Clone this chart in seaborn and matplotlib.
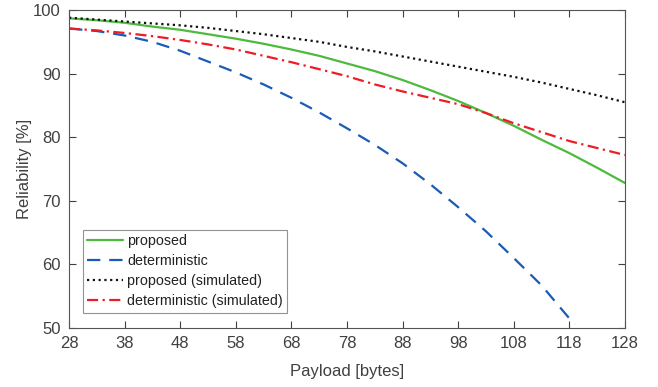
import matplotlib
matplotlib.use("Agg")
import matplotlib.pyplot as plt
import seaborn as sns
import pandas as pd

sns.set_theme(style="white")
plt.rcParams['font.family'] = ['Liberation Sans', 'DejaVu Sans']

payload = [28, 33, 38, 43, 48, 53, 58, 63, 68, 73, 78, 83, 88, 93, 98, 103, 108, 113, 118, 123, 128]
proposed = [98.7, 98.4, 98.0, 97.4, 96.9, 96.2, 95.5, 94.7, 93.8, 92.8, 91.6, 90.4, 89.0, 87.4, 85.7, 83.8, 81.8, 79.6, 77.5, 75.2, 72.8]
payload_det = [28, 33, 38, 43, 48, 53, 58, 63, 68, 73, 78, 83, 88, 93, 98, 103, 108, 113, 118, 119]
deterministic = [97.1, 96.7, 96.0, 95.0, 93.6, 91.9, 90.2, 88.3, 86.2, 83.9, 81.4, 78.8, 75.9, 72.6, 69.0, 65.2, 61.0, 56.7, 51.5, 50.6]
proposed_sim = [98.8, 98.5, 98.2, 97.9, 97.6, 97.2, 96.7, 96.2, 95.6, 95.0, 94.2, 93.5, 92.7, 91.9, 91.1, 90.3, 89.5, 88.6, 87.6, 86.6, 85.5]
deterministic_sim = [97.1, 96.8, 96.4, 95.9, 95.3, 94.6, 93.8, 92.8, 91.8, 90.7, 89.6, 88.3, 87.2, 86.2, 85.2, 83.8, 82.2, 80.8, 79.4, 78.3, 77.2]
xticks = [28, 38, 48, 58, 68, 78, 88, 98, 108, 118, 128]
yticks = [50, 60, 70, 80, 90, 100]

fig = plt.figure(figsize=(6.58, 3.87), dpi=100)
ax = fig.add_axes([0.1049, 0.1525, 0.8449, 0.8215])

sns.lineplot(x=payload, y=proposed, ax=ax, color="#4DBA3D", lw=1.6, label="proposed")
sns.lineplot(x=payload_det, y=deterministic, ax=ax, color="#1A5BB5", lw=1.6,
             label="deterministic").lines[-1].set_dashes([6, 4])
sns.lineplot(x=payload, y=proposed_sim, ax=ax, color="#111111", lw=1.6, label="proposed (simulated)").lines[-1].set_dashes([1, 1.6])
sns.lineplot(x=payload, y=deterministic_sim, ax=ax, color="#EE1C25", lw=1.6, label="deterministic (simulated)").lines[-1].set_dashes([5, 2, 1, 2])

ax.set_xlim(28, 128)
ax.set_ylim(50, 100)
ax.set_xticks(xticks)
ax.set_yticks(yticks)
tc = "#404040"
ax.tick_params(direction="in", length=5, width=0.8, color="#404040", labelcolor=tc,
               labelsize=12, top=True, right=True, bottom=True, left=True, pad=6)
for s in ax.spines.values():
    s.set_color("#555555")
    s.set_linewidth(0.8)
ax.set_xlabel("Payload [bytes]", fontsize=12, color=tc, labelpad=9)
ax.set_ylabel("Reliability [%]", fontsize=12, color=tc, labelpad=1)

leg = ax.legend(loc="lower left", bbox_to_anchor=(0.025, 0.048), fontsize=10.3, frameon=True,
                fancybox=False, edgecolor="#777777", handlelength=2.5, labelspacing=0.42,
                borderpad=0.3, handletextpad=0.3, borderaxespad=0)
leg.get_frame().set_linewidth(0.8)
for t in leg.get_texts():
    t.set_color("#222222")

fig.savefig("out.png", dpi=100)
